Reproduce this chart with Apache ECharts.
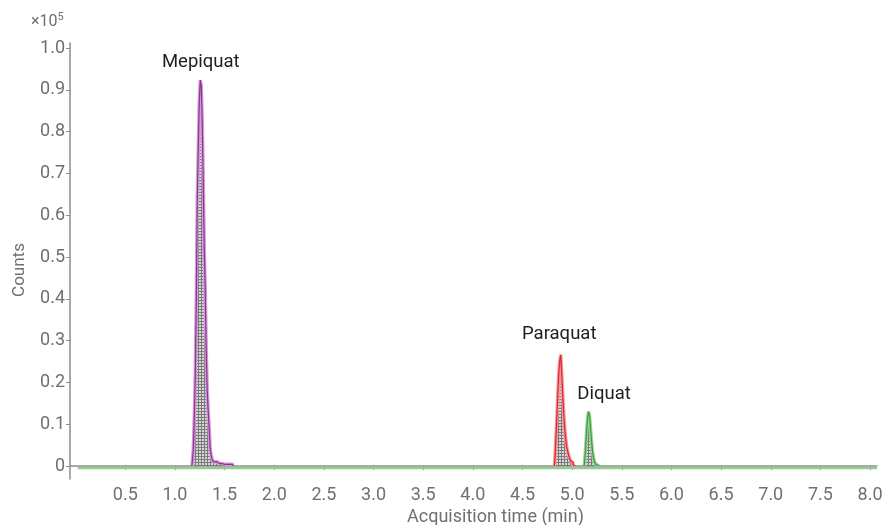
<!DOCTYPE html>
<html>
<head>
<meta charset="utf-8">
<script src="https://cdn.jsdelivr.net/npm/echarts@6/dist/echarts.min.js"></script>
<style>
html,body{margin:0;padding:0;background:#fff;}
#chart{width:885px;height:525px;}
</style>
</head>
<body>
<div id="chart"></div>
<script>
// ---- data (time in min, counts in ×10^5) ----
const runStart = 0.02;
const runEnd = 8.07;
const baselineLevel = -0.005;

const xTicks = [0.5,1.0,1.5,2.0,2.5,3.0,3.5,4.0,4.5,5.0,5.5,6.0,6.5,7.0,7.5,8.0];
const yTicks = [0,0.1,0.2,0.3,0.4,0.5,0.6,0.7,0.8,0.9,1.0];

const mepiquatTime   = [1.17,1.18,1.19,1.20,1.21,1.22,1.23,1.24,1.25,1.26,1.27,1.28,1.29,1.30,1.31,1.32,1.33,1.34,1.35,1.36,1.37,1.38,1.40,1.45,1.50,1.58,1.59];
const mepiquatCounts = [0,0.01,0.04,0.12,0.22,0.40,0.64,0.76,0.87,0.923,0.91,0.82,0.68,0.52,0.42,0.27,0.18,0.13,0.09,0.04,0.025,0.015,0.01,0.006,0.004,0.004,0];

const paraquatTime   = [4.82,4.83,4.84,4.85,4.86,4.87,4.88,4.89,4.90,4.91,4.92,4.93,4.94,4.95,4.96,4.97,4.98,4.99,5.00,5.02,5.03];
const paraquatCounts = [0,0.01,0.06,0.11,0.17,0.22,0.25,0.266,0.22,0.17,0.125,0.09,0.065,0.045,0.035,0.025,0.018,0.012,0.008,0.003,0];

const diquatTime   = [5.12,5.13,5.14,5.15,5.16,5.17,5.18,5.19,5.20,5.21,5.22,5.23,5.25,5.27];
const diquatCounts = [0,0.01,0.04,0.08,0.115,0.13,0.12,0.09,0.06,0.035,0.02,0.01,0.004,0];

const compoundNames = ['Mepiquat','Paraquat','Diquat'];

// ---- styling ----
const compounds = [
  {name: compoundNames[0], t: mepiquatTime, c: mepiquatCounts, dark:'#8a3593', glow:'#d79ad9', labelOffset:[0,0], labelDist:8},
  {name: compoundNames[1], t: paraquatTime, c: paraquatCounts, dark:'#e0262c', glow:'#f29a9a', labelOffset:[-2,0], labelDist:11},
  {name: compoundNames[2], t: diquatTime, c: diquatCounts, dark:'#3c9c3e', glow:'#9bd497', labelOffset:[15,0], labelDist:8}
];

// hatch pattern
const pc = document.createElement('canvas');
pc.width = 3; pc.height = 3;
const pctx = pc.getContext('2d');
pctx.fillStyle = '#d6d6d6';
pctx.fillRect(0,0,3,3);
pctx.fillStyle = '#7a7a7a';
pctx.fillRect(0,0,3,1);
pctx.fillRect(0,0,1,3);

const series = [];
compounds.forEach(function(cp, idx){
  const pts = cp.t.map(function(t,i){ return [t, cp.c[i]]; });
  let maxI = 0;
  cp.c.forEach(function(v,i){ if (v > cp.c[maxI]) maxI = i; });
  series.push({
    type:'line', name: cp.name + ' area', data: pts, showSymbol:false, symbol:'none',
    step:'middle', z: 2 + idx*3,
    lineStyle:{color: cp.glow, width: 3.5},
    areaStyle:{color:{image: pc, repeat:'repeat'}, opacity: 1},
    silent:true, animation:false
  });
  series.push({
    type:'line', name: cp.name, data: pts, showSymbol:false, symbol:'none',
    step:'middle', z: 3 + idx*3,
    lineStyle:{color: cp.dark, width: 1.2},
    silent:true, animation:false,
    markPoint:{
      symbol:'circle', symbolSize:0,
      data:[{coord:[cp.t[maxI], cp.c[maxI]], value: cp.name}],
      label:{show:true, position:'top', distance: cp.labelDist, offset: cp.labelOffset,
        formatter: cp.name, color:'#1e1e1e', fontSize:18.5, fontFamily:'Roboto'},
      animation:false
    }
  });
});

// baseline (green trace across whole run)
series.push({
  type:'line', name:'baseline', data:[[runStart, baselineLevel],[runEnd, baselineLevel]],
  showSymbol:false, symbol:'none', z: 20,
  lineStyle:{color:'#8fcf87', width:2.2}, silent:true, animation:false
});

const chart = echarts.init(document.getElementById('chart'));
chart.setOption({
  animation:false,
  backgroundColor:'#ffffff',
  grid:{left:70, right:8, top:43, bottom:46, containLabel:false, outerBoundsMode:'none'},
  xAxis:{
    type:'value', min:-0.057, max:8.07,
    splitLine:{show:false},
    axisLine:{show:true, lineStyle:{color:'#8c8c8c', width:1.5}},
    axisTick:{show:true, length:4, customValues: xTicks, lineStyle:{color:'#8c8c8c', width:1}},
    axisLabel:{customValues: xTicks, color:'#707070', fontSize:18, fontFamily:'Roboto', margin:7,
      formatter:function(v){ return v.toFixed(1); }},
    name:'Acquisition time (min)', nameLocation:'middle', nameGap:28,
    nameTextStyle:{color:'#707070', fontSize:18, fontFamily:'Roboto', padding:[0,0,0,44]}
  },
  yAxis:{
    type:'value', min:-0.031, max:1.012,
    splitLine:{show:false},
    axisLine:{show:true, onZero:false, lineStyle:{color:'#8c8c8c', width:1.5}},
    axisTick:{show:true, length:4, customValues: yTicks, lineStyle:{color:'#8c8c8c', width:1}},
    axisLabel:{customValues: yTicks, color:'#707070', fontSize:18, fontFamily:'Roboto', margin:5,
      formatter:function(v){ return v === 0 ? '0' : v.toFixed(1); }},
    name:'Counts', nameLocation:'middle', nameGap:42,
    nameTextStyle:{color:'#707070', fontSize:17, fontFamily:'Roboto', padding:[0,18,0,0]}
  },
  graphic:[{
    type:'text', left:31, top:12,
    style:{
      text:'×10{s|5}',
      rich:{s:{fontSize:11, verticalAlign:'top', padding:[0,0,9,0], fill:'#707070', fontFamily:'Roboto'}},
      fill:'#707070', fontSize:16, fontFamily:'Roboto'
    }
  }],
  series: series
});
</script>
</body>
</html>
